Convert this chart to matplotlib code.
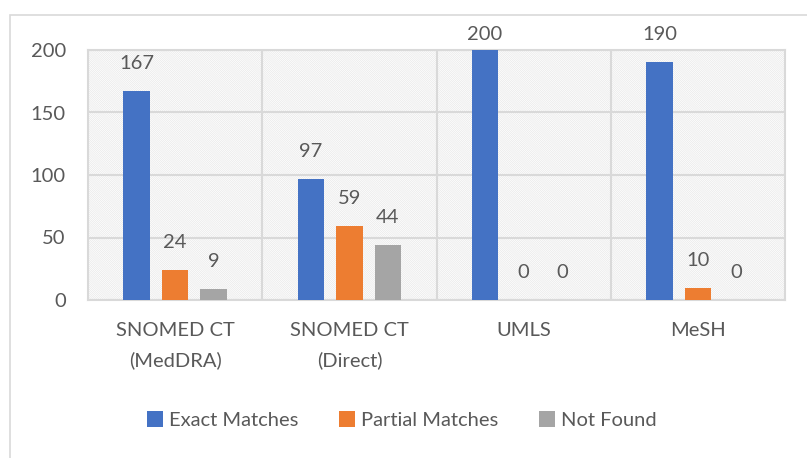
import numpy as np
import matplotlib.pyplot as plt
import matplotlib.patches as mpatches

plt.rcParams['font.family'] = ['Lato', 'DejaVu Sans']
plt.rcParams['hatch.linewidth'] = 0.5

categories = ["SNOMED CT\n(MedDRA)", "SNOMED CT\n(Direct)", "UMLS", "MeSH"]
series_names = ["Exact Matches", "Partial Matches", "Not Found"]
exact = [167, 97, 200, 190]
partial = [24, 59, 0, 10]
not_found = [9, 44, 0, 0]
colors = ["#4472C4", "#ED7D31", "#A5A5A5"]
text_color = "#595959"

fig = plt.figure(figsize=(8.07, 4.58), dpi=100)
# outer chart border
fig.patches.append(mpatches.Rectangle((10 / 807, -0.01), 1.0, 1 - 15 / 458 + 0.01,
                                      transform=fig.transFigure, fill=False,
                                      edgecolor="#d9d9d9", linewidth=1.2))
ax = fig.add_axes([88 / 807, 1 - 300 / 458, (785 - 88) / 807, 250 / 458])
ax.patch.set_facecolor("white")
ax.patch.set_hatch("\\" * 16)
ax.patch.set_edgecolor("#e8e8e8")

x = np.arange(len(categories))
width = 0.152
step = 0.221
for i, (vals, name) in enumerate(zip([exact, partial, not_found], series_names)):
    pos = x + (i - 1) * step
    ax.bar(pos, vals, width, color=colors[i], label=name, zorder=3)
    for p, v in zip(pos, vals):
        # labels sit above the bar, but are kept inside the chart area at the top
        ax.text(p, min(v + 22, 212), str(v), ha="center", va="center", fontsize=14.5,
                color=text_color, clip_on=False)

ax.set_xlim(-0.5, 3.5)
ax.set_ylim(0, 200)
ax.set_yticks([0, 50, 100, 150, 200])
ax.set_xticks(x)
ax.set_xticklabels(categories, linespacing=1.8)
ax.set_xticks([0.5, 1.5, 2.5], minor=True)
ax.grid(axis="y", color="#d9d9d9", linewidth=1.5, zorder=1)
ax.grid(axis="x", which="minor", color="#d9d9d9", linewidth=1.5, zorder=1)
ax.tick_params(axis="both", which="both", length=0, labelsize=14.5, labelcolor=text_color)
ax.tick_params(axis="y", pad=16)
ax.tick_params(axis="x", pad=16)
for s in ax.spines.values():
    s.set_color("#d9d9d9")
    s.set_linewidth(1.5)

ax.legend(loc="center", bbox_to_anchor=(0.45, -0.48), ncol=3, frameon=False,
          fontsize=14.5, labelcolor=text_color, handlelength=0.8, handleheight=0.8,
          handletextpad=0.3, columnspacing=2.0)

fig.savefig("out.png", dpi=100)
